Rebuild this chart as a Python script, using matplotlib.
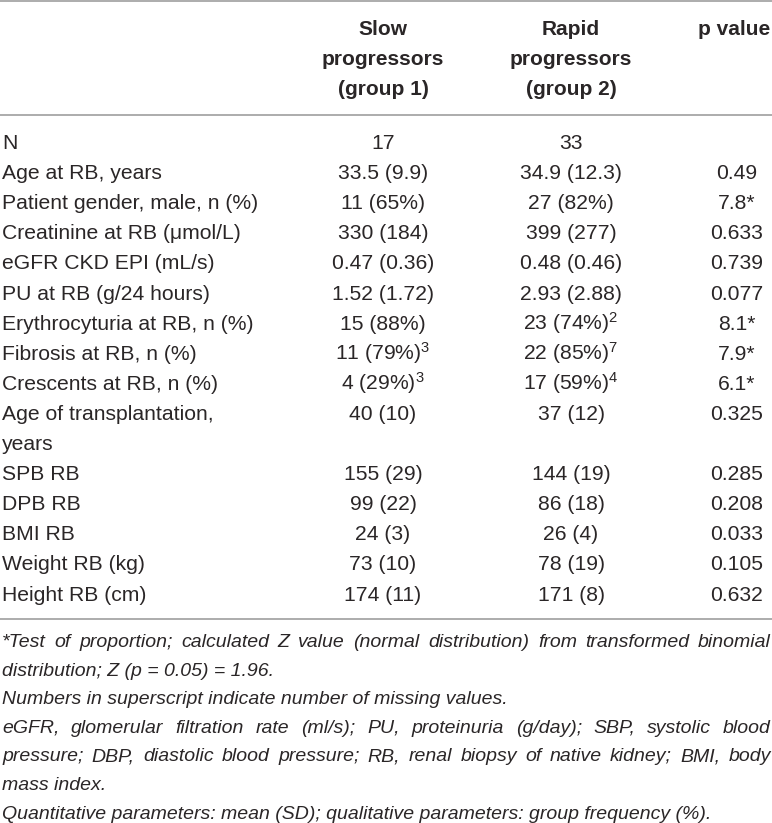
import matplotlib
matplotlib.use("Agg")
import matplotlib.pyplot as plt

plt.rcParams['font.family'] = ['Liberation Sans', 'DejaVu Sans']
plt.rcParams['mathtext.fontset'] = 'custom'
plt.rcParams['mathtext.rm'] = 'Liberation Sans'
plt.rcParams['mathtext.it'] = 'Liberation Sans:italic'

# table content
header_cols = ["Slow\nprogressors\n(group 1)", "Rapid\nprogressors\n(group 2)", "p value"]

row_labels = ["N", "Age at RB, years", "Patient gender, male, n (%)",
              "Creatinine at RB (\u03bcmol/L)", "eGFR CKD EPI (mL/s)",
              "PU at RB (g/24 hours)", "Erythrocyturia at RB, n (%)",
              "Fibrosis at RB, n (%)", "Crescents at RB, n (%)",
              "Age of transplantation,\nyears", "SPB RB", "DPB RB", "BMI RB",
              "Weight RB (kg)", "Height RB (cm)"]

slow = ["17", "33.5 (9.9)", "11 (65%)", "330 (184)", "0.47 (0.36)", "1.52 (1.72)",
        "15 (88%)", "11 (79%)$^{\\mathregular{3}}$", "4 (29%)$^{\\mathregular{3}}$",
        "40 (10)", "155 (29)", "99 (22)", "24 (3)", "73 (10)", "174 (11)"]

rapid = ["33", "34.9 (12.3)", "27 (82%)", "399 (277)", "0.48 (0.46)", "2.93 (2.88)",
         "23 (74%)$^{\\mathregular{2}}$", "22 (85%)$^{\\mathregular{7}}$",
         "17 (59%)$^{\\mathregular{4}}$", "37 (12)", "144 (19)", "86 (18)",
         "26 (4)", "78 (19)", "171 (8)"]

pvals = ["", "0.49", "7.8*", "0.633", "0.739", "0.077", "8.1*", "7.9*", "6.1*",
         "0.325", "0.285", "0.208", "0.033", "0.105", "0.632"]

footnotes = [
    ("*Test of proportion; calculated Z value (normal distribution) from transformed binomial", True),
    ("distribution; Z (p = 0.05) = 1.96.", False),
    ("Numbers in superscript indicate number of missing values.", False),
    ("eGFR, glomerular filtration rate (ml/s); PU, proteinuria (g/day); SBP, systolic blood", True),
    ("pressure; DBP, diastolic blood pressure; RB, renal biopsy of native kidney; BMI, body", True),
    ("mass index.", False),
    ("Quantitative parameters: mean (SD); qualitative parameters: group frequency (%).", False),
]

W, H = 772, 823
fig = plt.figure(figsize=(W / 100, H / 100), dpi=100)
ax = fig.add_axes([0, 0, 1, 1])
ax.set_xlim(0, W)
ax.set_ylim(H, 0)
ax.axis('off')

txt = '#2a2627'
rule = '#a6a6a6'
fs = 15.2
fs_head = 15
fs_note = 14
col_x = [383, 571, 737]
head_x = [383, 571, 734]
left = 2

# rules
for y in [1.2, 115, 619]:
    ax.plot([0, W], [y, y], color=rule, lw=1.3, solid_capstyle='butt')

# header
for cx, h in zip(head_x, header_cols):
    for i, line in enumerate(h.split("\n")):
        ax.text(cx, 35 + 30 * i, line, ha='center', va='baseline',
                fontsize=fs_head, fontweight='bold', color=txt)

# body
y = 149
for lab, s, r, p in zip(row_labels, slow, rapid, pvals):
    parts = lab.split("\n")
    ax.text(left, y, parts[0], ha='left', va='baseline', fontsize=fs, color=txt)
    ax.text(col_x[0], y, s, ha='center', va='baseline', fontsize=fs, color=txt)
    ax.text(col_x[1], y, r, ha='center', va='baseline', fontsize=fs, color=txt)
    ax.text(col_x[2], y, p, ha='center', va='baseline', fontsize=fs, color=txt)
    for extra in parts[1:]:
        y += 30.1
        ax.text(left, y, extra, ha='left', va='baseline', fontsize=fs, color=txt)
    y += 30.1

# footnotes (justified where the source is)
renderer = fig.canvas.get_renderer()
fy = 647
right = 771
for line, justify in footnotes:
    if not justify:
        ax.text(left, fy, line, ha='left', va='baseline', fontsize=fs_note,
                style='italic', color=txt)
    else:
        words = line.split(" ")
        objs = [ax.text(0, fy, w, ha='left', va='baseline', fontsize=fs_note,
                        style='italic', color=txt) for w in words]
        widths = [o.get_window_extent(renderer).width for o in objs]
        gap = (right - left - sum(widths)) / (len(words) - 1)
        x = left
        for o, wd in zip(objs, widths):
            o.set_x(x)
            x += wd + gap
    fy += 28.6

fig.savefig("out.png", dpi=100)
